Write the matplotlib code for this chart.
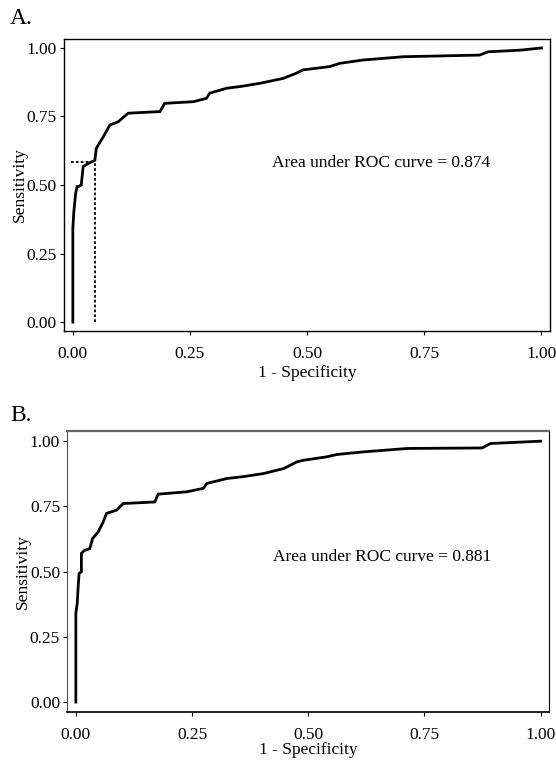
import matplotlib
matplotlib.use("Agg")
import matplotlib.pyplot as plt

# ROC curve A (1 - specificity, sensitivity)
fpr_a = [0.0, 0.0, 0.002, 0.006, 0.009, 0.011, 0.018, 0.022, 0.033, 0.047, 0.050,
         0.065, 0.079, 0.097, 0.118, 0.186, 0.196, 0.257, 0.285, 0.292, 0.328,
         0.360, 0.399, 0.449, 0.477, 0.491, 0.548, 0.570, 0.619, 0.705, 0.868,
         0.886, 0.955, 1.0]
tpr_a = [0.0, 0.342, 0.40, 0.47, 0.494, 0.494, 0.50, 0.567, 0.579, 0.59, 0.634,
         0.676, 0.719, 0.731, 0.762, 0.768, 0.798, 0.804, 0.816, 0.835, 0.853,
         0.860, 0.871, 0.889, 0.908, 0.920, 0.932, 0.944, 0.956, 0.968, 0.974,
         0.986, 0.992, 1.0]
auc_a = 0.874
cut_a = (0.048, 0.585)

# ROC curve B
fpr_b = [0.0, 0.0, 0.003, 0.005, 0.007, 0.012, 0.012, 0.019, 0.030, 0.036, 0.048,
         0.059, 0.066, 0.088, 0.102, 0.170, 0.177, 0.239, 0.274, 0.282, 0.325,
         0.360, 0.404, 0.447, 0.476, 0.490, 0.540, 0.562, 0.619, 0.713, 0.874,
         0.892, 0.964, 1.0]
tpr_b = [0.0, 0.34, 0.378, 0.442, 0.493, 0.50, 0.570, 0.582, 0.588, 0.627, 0.652,
         0.691, 0.723, 0.736, 0.761, 0.767, 0.797, 0.806, 0.819, 0.838, 0.857,
         0.864, 0.876, 0.895, 0.921, 0.927, 0.940, 0.949, 0.959, 0.972, 0.974,
         0.991, 0.997, 1.0]
auc_b = 0.881

ticks = [0.0, 0.25, 0.5, 0.75, 1.0]
tick_labels = ["0.00", "0.25", "0.50", "0.75", "1.00"]

plt.rcParams['font.family'] = ['Liberation Serif', 'DejaVu Serif']
plt.rcParams['font.size'] = 12.5

fig = plt.figure(figsize=(5.56, 7.63), dpi=100)
ax1 = fig.add_axes([0.115, 0.566, 0.874, 0.383])
ax2 = fig.add_axes([0.1205, 0.0668, 0.867, 0.368])


def style(ax, ylim, xpad):
    ax.set_xlim(-0.019, 1.018)
    ax.set_ylim(*ylim)
    ax.set_xticks(ticks)
    ax.set_xticklabels(tick_labels)
    ax.set_yticks(ticks)
    ax.set_yticklabels(tick_labels)
    ax.tick_params(length=3, width=0.8, pad=2, labelsize=12.5)
    ax.tick_params(axis='x', pad=8)
    ax.set_xlabel("1 - Specificity", labelpad=xpad)
    ax.set_ylabel("Sensitivity", labelpad=-1)


ax1.plot(fpr_a, tpr_a, color='black', lw=2.0, solid_joinstyle='miter')
ax1.plot([-0.004, cut_a[0]], [cut_a[1], cut_a[1]], color='black', lw=1.3, ls=(0, (1.5, 1.2)))
ax1.plot([cut_a[0], cut_a[0]], [0, cut_a[1]], color='black', lw=1.3, ls=(0, (1.5, 1.2)))
ax1.text(0.425, 0.58, f"Area under ROC curve = {auc_a}", va='center', ha='left')
style(ax1, (-0.033, 1.033), 1.5)
for s in ax1.spines.values():
    s.set_linewidth(1.0)
fig.text(0.018, 0.976, "A.", fontsize=17, va='center', ha='left')

ax2.plot(fpr_b, tpr_b, color='black', lw=2.0, solid_joinstyle='miter')
ax2.text(0.425, 0.557, f"Area under ROC curve = {auc_b}", va='center', ha='left')
style(ax2, (-0.038, 1.038), -1)
ax2.spines['left'].set_linestyle((0, (1, 1)))
ax2.spines['left'].set_color('#555555')
ax2.spines['top'].set_color('#666666')
ax2.spines['top'].set_linewidth(1.6)
ax2.spines['right'].set_linewidth(0.8)
ax2.spines['bottom'].set_linewidth(1.2)
fig.text(0.018, 0.456, "B.", fontsize=17, va='center', ha='left')

fig.savefig("out.png", dpi=100)
